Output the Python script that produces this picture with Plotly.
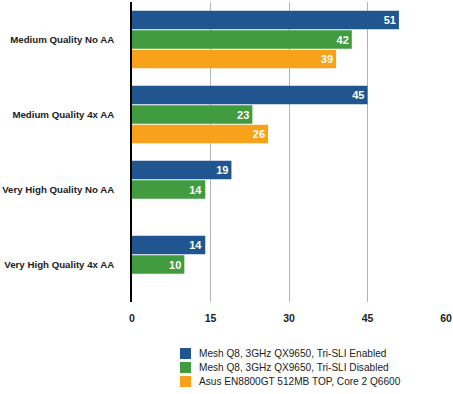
import plotly.graph_objects as go

categories = ["Medium Quality No AA", "Medium Quality 4x AA", "Very High Quality No AA", "Very High Quality 4x AA"]
series_names = ["Mesh Q8, 3GHz QX9650, Tri-SLI Enabled",
                "Mesh Q8, 3GHz QX9650, Tri-SLI Disabled",
                "Asus EN8800GT 512MB TOP, Core 2 Q6600"]
tri_sli_enabled = [51, 45, 19, 14]
tri_sli_disabled = [42, 23, 14, 10]
asus_8800gt = [39, 26, None, None]
x_ticks = [0, 15, 30, 45, 60]

colors = ["#20558f", "#419b3f", "#f8a11a"]
FONT = "Liberation Sans, Arial, sans-serif"

fig = go.Figure()
for name, vals, col in zip(series_names, [tri_sli_enabled, tri_sli_disabled, asus_8800gt], colors):
    fig.add_trace(go.Bar(
        y=categories, x=vals, name=name, orientation="h",
        marker=dict(color=col, line=dict(width=0)),
        text=[("" if v is None else str(v)) for v in vals],
        textposition="inside", insidetextanchor="end", textangle=0,
        textfont=dict(family=FONT, size=11, color="white", weight="bold"),
        constraintext="none", showlegend=False, cliponaxis=False,
    ))

W, H = 453, 394
L, R, T, B = 132, 7, 2, 92
PW, PH = W - L - R, H - T - B
fig.update_layout(
    width=W, height=H, barmode="group", bargap=0.22, bargroupgap=0.06,
    margin=dict(l=L, r=R, t=T, b=B),
    paper_bgcolor="white", plot_bgcolor="white",
    font=dict(family=FONT, color="#222222"),
    xaxis=dict(range=[0, 60], tickvals=x_ticks, showgrid=True, gridcolor="#b3b3b3", gridwidth=1,
               zeroline=False, showline=False, ticks="", automargin=False,
               tickfont=dict(family=FONT, size=10.5, color="#222222", weight="bold"),
               ticklabelstandoff=8, fixedrange=True),
    yaxis=dict(autorange="reversed", showgrid=False, zeroline=False, showline=True,
               linecolor="black", linewidth=1.5, ticks="", automargin=False,
               tickfont=dict(family=FONT, size=9.7, color="#222222", weight="bold"),
               ticklabelstandoff=14),
)

# legend drawn with shapes + annotations
leg_x0, leg_y0, leg_step = 180, 348, 14
for i, (name, col) in enumerate(zip(series_names, colors)):
    ytop = leg_y0 + i * leg_step
    fig.add_shape(type="rect", xref="paper", yref="paper",
                  x0=(leg_x0 - L) / PW, x1=(leg_x0 + 11 - L) / PW,
                  y0=-(ytop + 11 - (T + PH)) / PH, y1=-(ytop - (T + PH)) / PH,
                  fillcolor=col, line=dict(width=0))
    fig.add_annotation(xref="paper", yref="paper",
                       x=(leg_x0 + 17 - L) / PW, y=-(ytop + 5.5 - (T + PH)) / PH,
                       xanchor="left", yanchor="middle", showarrow=False,
                       text=name, font=dict(family=FONT, size=10.1, color="#222222"))

fig.write_html("out.html", config={"displayModeBar": False},
               post_script=["document.body.style.margin='0px';"])
